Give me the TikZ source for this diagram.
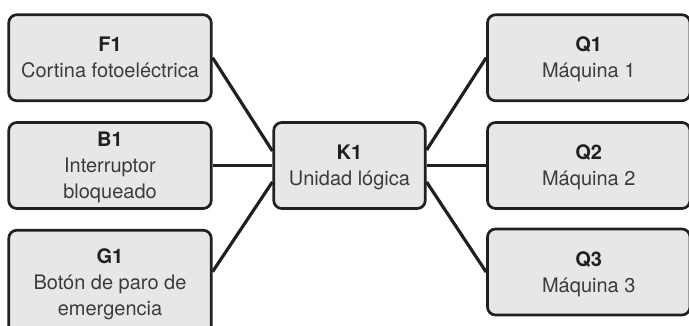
\documentclass[tikz,border=0pt]{standalone}
\usepackage{fontspec}
\setmainfont{TeX Gyre Heros}
\usetikzlibrary{backgrounds}
\definecolor{boxline}{HTML}{231F20}
\definecolor{boxfill}{HTML}{E6E7E8}
\definecolor{txt}{HTML}{3C3C3C}
% box text: bold device tag, then one or more description lines.
% The declared height/depth run from the cap height of the tag to the last
% baseline, so the lines sit visually centred in the box.
\newcommand{\devtext}[3]{%
  \raisebox{0pt}[14.4pt][#1pt]{%
    \begin{tabular}[t]{@{}c@{}}{\color{boxline}\bfseries #2}\\ #3\end{tabular}}}
\begin{document}
\begin{tikzpicture}[x=1pt,y=-1pt,
  box/.style={draw=boxline, fill=boxfill, line width=2.7pt, rounded corners=8pt,
    inner sep=0pt, text=txt, font=\fontsize{20}{26}\selectfont},
  side/.style={box, minimum width=202.5pt, minimum height=86pt},
  link/.style={draw=boxline, line width=3.2pt}]
\useasboundingbox (0,0) rectangle (689,325);
\clip (0,0) rectangle (689,325);

% inputs on the left
\node[side] (F1) at (110,57.75) {\devtext{26}{F1}{Cortina fotoeléctrica}};
\node[side] (B1) at (110,165.5) {\devtext{52}{B1}{Interruptor\\ bloqueado}};
\node[side, minimum height=103.5pt] (G1) at (110,282) {\devtext{52}{G1}{Botón de paro de\\ emergencia}};

% logic unit
\node[box, minimum width=151.5pt, minimum height=86pt] (K1) at (349.5,165.5) {\devtext{26}{K1}{Unidad lógica}};

% machines on the right
\node[side] (Q1) at (588.75,57.75) {\devtext{26}{Q1}{Máquina 1}};
\node[side] (Q2) at (588.75,165.5) {\devtext{26}{Q2}{Máquina 2}};
\node[side] (Q3) at (588.75,272) {\devtext{26}{Q3}{Máquina 3}};

\coordinate (g1out) at ([yshift=-42.75pt]G1.north east);

% connectors run behind the boxes
\begin{scope}[on background layer]
  \draw[link] (F1.east) -- ([yshift=14.5pt]K1.west);
  \draw[link] (B1.east) -- (K1.west);
  \draw[link] (g1out) -- ([yshift=-16.5pt]K1.west);
  \draw[link] ([yshift=15.5pt]K1.east) -- (Q1.west);
  \draw[link] (K1.east) -- (Q2.west);
  \draw[link] ([yshift=-16.5pt]K1.east) -- (Q3.west);
\end{scope}
\end{tikzpicture}
\end{document}
